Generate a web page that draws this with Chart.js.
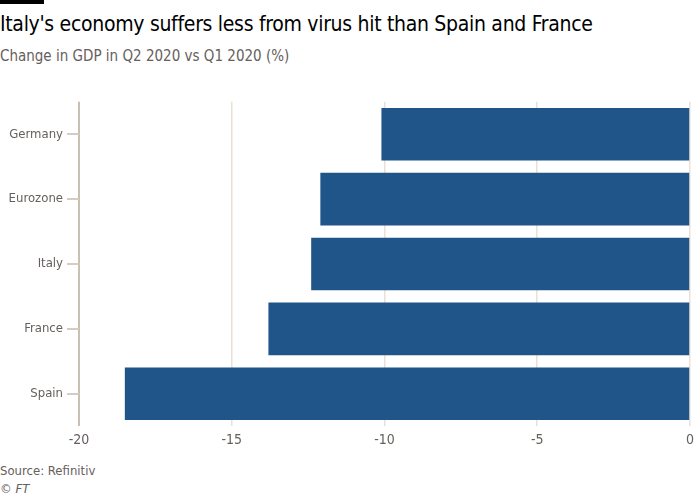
<!DOCTYPE html>
<html>
<head>
<meta charset="utf-8">
<script src="https://cdn.jsdelivr.net/npm/chart.js@4/dist/chart.umd.min.js"></script>
<style>
body{margin:0;background:#fff;font-family:"DejaVu Sans Condensed","DejaVu Sans",sans-serif;font-stretch:condensed;}
#wrap{position:relative;width:700px;height:500px;overflow:hidden;}
#bar{position:absolute;left:0;top:0;width:44px;height:4px;background:#000;}
#title{position:absolute;left:0;top:12px;font-size:21px;color:#000;white-space:nowrap;letter-spacing:-0.3px;}
#sub{position:absolute;left:0;top:47px;font-size:15px;color:#66605c;white-space:nowrap;}
#src{position:absolute;left:0;top:463px;font-size:13px;color:#66605c;}
#ft{position:absolute;left:0;top:481px;font-size:13px;color:#66605c;font-style:italic;}
#box{position:absolute;left:0;top:90px;width:700px;height:365px;}
</style>
</head>
<body>
<div id="wrap">
  <div id="bar"></div>
  <div id="title">Italy's economy suffers less from virus hit than Spain and France</div>
  <div id="sub">Change in GDP in Q2 2020 vs Q1 2020 (%)</div>
  <div id="box"><canvas id="chart"></canvas></div>
  <div id="src">Source: Refinitiv</div>
  <div id="ft">© FT</div>
</div>
<script>
var countries=["Germany","Eurozone","Italy","France","Spain"];
var gdpChange=[-10.1,-12.1,-12.4,-13.8,-18.5];
var xTicks=[-20,-15,-10,-5,0];

var tickFont="'DejaVu Sans Condensed', 'DejaVu Sans', sans-serif";
var ctx=document.getElementById("chart");
var chart=new Chart(ctx,{
    type:"bar",
    data:{
        labels:countries,
        datasets:[{
            label:"Change in GDP",
            data:gdpChange,
            backgroundColor:"#20558a",
            barPercentage:0.9,
            categoryPercentage:0.9
        }]
    },
    options:{
        indexAxis:"y",
        responsive:true,
        maintainAspectRatio:false,
        animation:false,
        layout:{padding:{top:9,right:10,bottom:0,left:0}},
        plugins:{legend:{display:false},tooltip:{enabled:false}},
        scales:{
            x:{
                min:xTicks[0],
                max:xTicks[xTicks.length-1],
                afterBuildTicks:function(scale){
                    scale.ticks=xTicks.map(function(v){return {value:v};});
                },
                border:{display:false},
                grid:{
                    drawTicks:false,
                    color:function(c){return c.tick&&c.tick.value===-20?"#cabfb4":"#e9e0d8";},
                    lineWidth:function(c){return c.tick&&c.tick.value===-20?2:1.5;}
                },
                ticks:{
                    color:"#66605c",
                    padding:6,
                    font:{family:tickFont,size:14}
                }
            },
            y:{
                afterFit:function(scale){scale.width=79;},
                border:{display:false},
                grid:{
                    offset:false,
                    drawOnChartArea:false,
                    drawTicks:true,
                    tickLength:12,
                    color:"#d5cbc2",
                    lineWidth:2
                },
                ticks:{
                    color:"#66605c",
                    padding:4,
                    font:{family:tickFont,size:13}
                }
            }
        }
    }
});
</script>
</body>
</html>
